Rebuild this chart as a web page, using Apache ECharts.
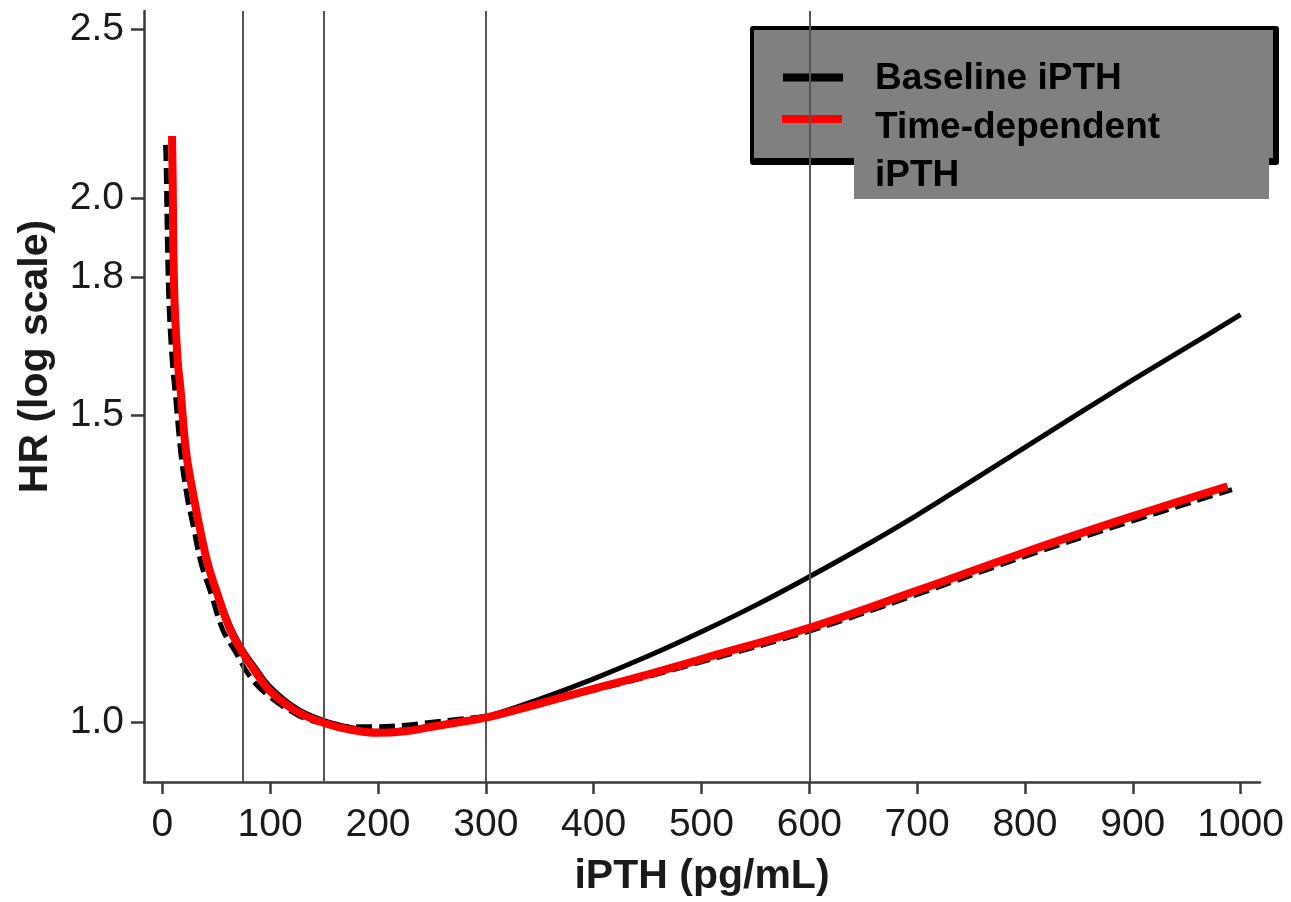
<!DOCTYPE html>
<html>
<head>
<meta charset="utf-8">
<script src="https://cdn.jsdelivr.net/npm/echarts@6/dist/echarts.min.js"></script>
<style>
  html, body { margin: 0; padding: 0; background: #ffffff; }
  #chart { width: 1291px; height: 902px; }
</style>
</head>
<body>
<div id="chart"></div>
<script>
// iPTH (pg/mL) against hazard ratio, hazard ratio on a log axis.

// Time-dependent iPTH model (red)
const ipthTimeDependent = [9, 9.5, 11, 14, 17, 22, 29, 35, 42, 50, 63, 75, 85, 100, 125, 150, 175, 200, 225, 250, 275, 300, 350, 400, 450, 500, 600, 700, 800, 900, 988];
const hrTimeDependent   = [2.17, 2.07, 1.77, 1.62, 1.55, 1.43, 1.348, 1.29, 1.234, 1.19, 1.13, 1.095, 1.072, 1.042, 1.014, 0.999, 0.99, 0.986, 0.988, 0.994, 1.0, 1.006, 1.025, 1.045, 1.065, 1.087, 1.133, 1.19, 1.252, 1.313, 1.366];

// Baseline iPTH model (solid black)
const ipthBaseline = [9, 9.5, 11, 14, 17, 22, 29, 35, 42, 50, 63, 75, 85, 100, 125, 150, 175, 200, 225, 250, 275, 300, 350, 400, 450, 500, 550, 600, 650, 700, 750, 800, 850, 900, 950, 1000];
const hrBaseline   = [2.17, 2.07, 1.77, 1.62, 1.55, 1.43, 1.348, 1.29, 1.236, 1.194, 1.136, 1.10, 1.078, 1.048, 1.018, 1.002, 0.993, 0.988, 0.99, 0.995, 1.0, 1.007, 1.031, 1.059, 1.091, 1.127, 1.167, 1.212, 1.261, 1.315, 1.375, 1.438, 1.504, 1.572, 1.641, 1.714];

// Dashed black curve
const ipthDashed = [3, 3.4, 5.8, 9, 13, 17.3, 22.9, 29, 35.9, 45, 56, 68, 80, 95, 125, 150, 175, 200, 225, 250, 275, 300, 350, 400, 450, 500, 600, 700, 800, 900, 992];
const hrDashed   = [2.145, 2.108, 1.767, 1.618, 1.52, 1.424, 1.348, 1.293, 1.234, 1.186, 1.13, 1.097, 1.065, 1.04, 1.01, 0.998, 0.994, 0.994, 0.996, 1.0, 1.004, 1.008, 1.024, 1.043, 1.062, 1.083, 1.128, 1.184, 1.245, 1.305, 1.36];

// Reference cut-points on the iPTH axis
const ipthCutPoints = [75, 150, 300, 600];

// Axis ticks
const xTickValues = [0, 100, 200, 300, 400, 500, 600, 700, 800, 900, 1000];
const xTickLabels = ['0', '100', '200', '300', '400', '500', '600', '700', '800', '900', '1000'];
const yTickValues = [1.0, 1.5, 1.8, 2.0, 2.5];
const yTickLabels = ['1.0', '1.5', '1.8', '2.0', '2.5'];

// Legend entries
const legendNames = ['Baseline iPTH', 'Time-dependent\niPTH'];
const legendColors = ['#000000', '#ff0000'];

const pairs = (xs, ys) => xs.map((x, i) => [x, ys[i]]);
const labelFor = (values, labels) => function (v) {
  for (let i = 0; i < values.length; i++) {
    if (Math.abs(values[i] - v) < 1e-6) return labels[i];
  }
  return '';
};

const FONT = 'Liberation Sans, Arial, Helvetica, sans-serif';
const AXIS_COLOR = '#3a3a3a';
const LEGEND_GRAY = '#808080';

const chart = echarts.init(document.getElementById('chart'), null, { renderer: 'canvas' });

const option = {
  animation: false,
  backgroundColor: '#ffffff',
  grid: { left: 144, right: 31, top: 11, bottom: 119, containLabel: false },
  xAxis: {
    type: 'value',
    min: -17,
    max: 1018,
    name: 'iPTH (pg/mL)',
    nameLocation: 'middle',
    nameGap: 74,
    nameTextStyle: { fontFamily: FONT, fontWeight: 'bold', fontSize: 41, color: '#1a1a1a' },
    axisLine: { show: true, onZero: false, lineStyle: { color: AXIS_COLOR, width: 2.5 } },
    axisTick: { show: true, length: 12, customValues: xTickValues, lineStyle: { color: AXIS_COLOR, width: 2.5 } },
    axisLabel: {
      customValues: xTickValues,
      margin: 24,
      fontFamily: FONT,
      fontSize: 39,
      color: '#1a1a1a',
      formatter: labelFor(xTickValues, xTickLabels)
    },
    splitLine: { show: false }
  },
  yAxis: {
    type: 'log',
    logBase: 10,
    min: 0.924,
    max: 2.56,
    name: 'HR (log scale)',
    nameLocation: 'middle',
    nameRotate: 90,
    nameGap: 88,
    nameTextStyle: { fontFamily: FONT, fontWeight: 'bold', fontSize: 41, color: '#1a1a1a', padding: [0, 0, 0, 80] },
    axisLine: { show: true, onZero: false, lineStyle: { color: AXIS_COLOR, width: 2.5 } },
    axisTick: { show: true, length: 13, customValues: yTickValues, lineStyle: { color: AXIS_COLOR, width: 2.5 } },
    axisLabel: {
      customValues: yTickValues,
      margin: 20,
      fontFamily: FONT,
      fontSize: 39,
      color: '#1a1a1a',
      formatter: labelFor(yTickValues, yTickLabels)
    },
    splitLine: { show: false }
  },
  series: [
    {
      name: 'Baseline iPTH',
      type: 'line',
      data: pairs(ipthBaseline, hrBaseline),
      showSymbol: false,
      smooth: 0.4,
      lineStyle: { color: '#000000', width: 5 },
      z: 3,
      markLine: {
        silent: true,
        symbol: ['none', 'none'],
        label: { show: false },
        lineStyle: { color: '#555555', width: 2, type: 'solid' },
        data: ipthCutPoints.map(v => ({ xAxis: v }))
      }
    },
    {
      name: 'Dashed',
      type: 'line',
      data: pairs(ipthDashed, hrDashed),
      showSymbol: false,
      smooth: 0.4,
      lineStyle: { color: '#000000', width: 5, type: [16, 7] },
      z: 4
    },
    {
      name: 'Time-dependent iPTH',
      type: 'line',
      data: pairs(ipthTimeDependent, hrTimeDependent),
      showSymbol: false,
      smooth: 0.4,
      lineStyle: { color: '#ff0000', width: 8 },
      z: 5
    }
  ],
  graphic: [
    {
      type: 'group',
      z: 100,
      children: [
        // border (thicker right/bottom edge)
        { type: 'rect', shape: { x: 750, y: 26, width: 529, height: 139, r: 3 }, style: { fill: '#000000' } },
        { type: 'rect', shape: { x: 754, y: 30, width: 519, height: 128 }, style: { fill: LEGEND_GRAY } },
        // overflow panel below the box
        { type: 'rect', shape: { x: 854, y: 150, width: 415, height: 49 }, style: { fill: LEGEND_GRAY } },
        // legend keys
        { type: 'rect', shape: { x: 783, y: 73.5, width: 60, height: 8 }, style: { fill: legendColors[0] } },
        { type: 'rect', shape: { x: 782, y: 115, width: 60, height: 8 }, style: { fill: legendColors[1] } },
        // legend labels
        { type: 'text', x: 875, y: 79, style: { text: legendNames[0], fill: '#000000', font: 'bold 37px ' + FONT, verticalAlign: 'middle', align: 'left' } },
        { type: 'text', x: 875, y: 104, style: { text: legendNames[1], fill: '#000000', font: 'bold 37px ' + FONT, lineHeight: 48, verticalAlign: 'top', align: 'left' } }
      ]
    }
  ]
};

chart.setOption(option);
</script>
</body>
</html>
